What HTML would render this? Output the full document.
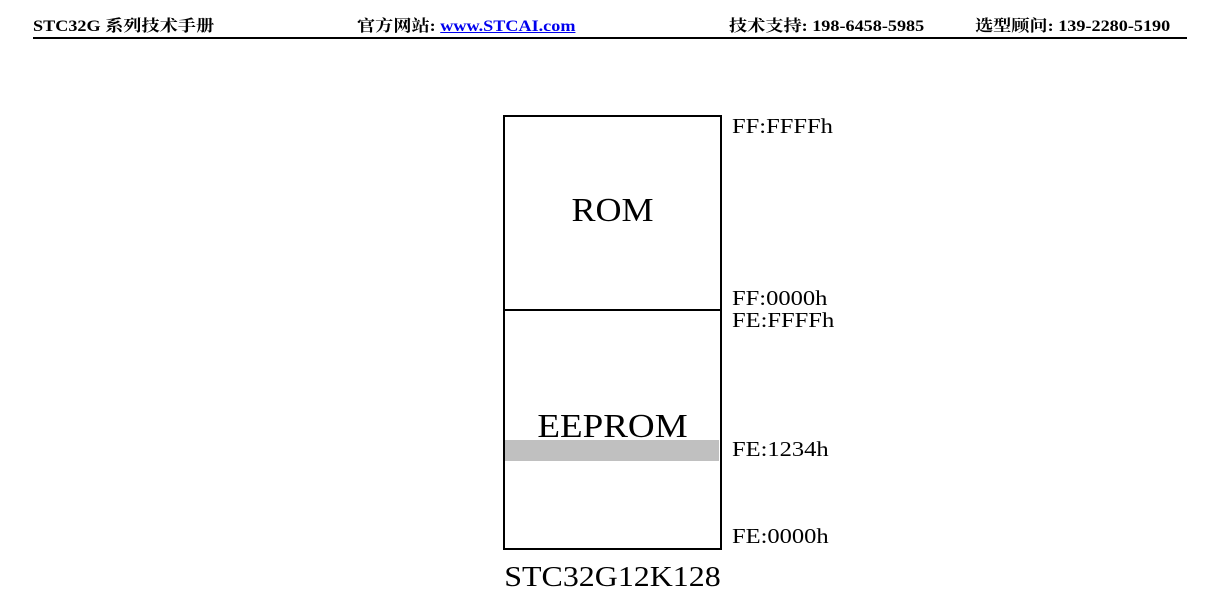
<!DOCTYPE html>
<html><head><meta charset="utf-8"><style>
body{margin:0;width:1211px;height:611px;background:#fff;position:relative;overflow:hidden;font-family:"Liberation Serif","Noto Serif CJK SC",serif;color:#000}
.h{position:absolute;top:13px;font-weight:bold;font-size:16px;white-space:nowrap;transform:scaleX(1.135);transform-origin:left}
.l{position:absolute;font-size:21.5px;white-space:nowrap;left:732px;transform:scaleX(1.14);transform-origin:left}
.c{position:absolute;left:503px;width:219px;text-align:center;transform-origin:center}
a{color:#0000ee;text-decoration:underline}
</style></head><body>
<div class="h" style="left:33px">STC32G 系列技术手册</div>
<div class="h" style="left:357px">官方网站: <a>www.STCAI.com</a></div>
<div class="h" style="left:729px">技术支持: 198-6458-5985</div>
<div class="h" style="left:975px">选型顾问: 139-2280-5190</div>
<div style="position:absolute;left:33px;top:37px;width:1154px;height:2px;background:#000"></div>
<div style="position:absolute;left:504px;top:440px;width:215px;height:21px;background:#c0c0c0"></div>
<div style="position:absolute;left:503px;top:115px;width:215px;height:431px;border:2px solid #000"></div>
<div style="position:absolute;left:503px;top:309px;width:219px;height:2px;background:#000"></div>
<div class="c" style="top:192px;font-size:34px;transform:scaleX(1.06)">ROM</div>
<div class="c" style="top:407px;font-size:34px;line-height:40px;transform:scaleX(1.09)">EEPROM</div>
<div class="l" style="top:114px">FF:FFFFh</div>
<div class="l" style="top:286px">FF:0000h</div>
<div class="l" style="top:308px">FE:FFFFh</div>
<div class="l" style="top:437px">FE:1234h</div>
<div class="l" style="top:524px">FE:0000h</div>
<div class="c" style="top:562px;font-size:28px;transform:scaleX(1.14)">STC32G12K128</div>
</body></html>
